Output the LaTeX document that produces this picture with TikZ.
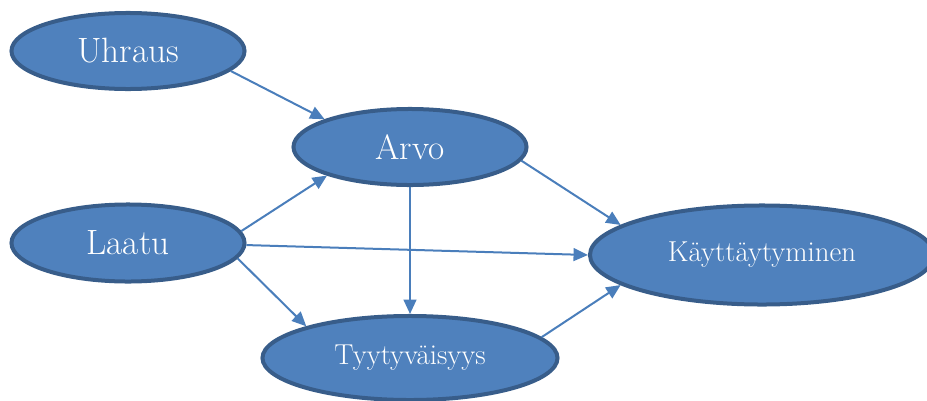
\documentclass[tikz,border=0pt]{standalone}
\usepackage{tikz}
\usetikzlibrary{shapes.geometric}
\usetikzlibrary{arrows.meta}
\definecolor{factorfill}{HTML}{4F81BD}
\definecolor{factorline}{HTML}{385D8A}
\definecolor{linkblue}{HTML}{4A7EBB}
\tikzset{
	factor/.style={ellipse, draw=factorline, fill=factorfill, line width=0.1cm, inner sep=0pt, text=white},
	bigfactor/.style={factor, font=\fontsize{25}{29}\selectfont},
	smallfactor/.style={factor, font=\fontsize{20.5}{24}\selectfont},
	link/.style={-{Triangle[length=3.6mm,width=3.2mm]}, line width=0.05cm, linkblue},
}

\begin{document}
\begin{tikzpicture}[x=0.025cm, y=-0.025cm]
		\useasboundingbox (0,0) rectangle (927,401);
		\clip (0,0) rectangle (927,401);

		% factors
		\node[bigfactor, minimum width=5.825cm, minimum height=1.9cm] (uhraus) at (128,51) {Uhraus};
		\node[bigfactor, minimum width=5.825cm, minimum height=1.9cm] (arvo) at (410,147) {Arvo};
		\node[bigfactor, minimum width=5.825cm, minimum height=1.925cm] (laatu) at (128,243) {Laatu};
		\node[smallfactor, minimum width=8.6cm, minimum height=2.475cm] (kaytt) at (762,255) {Käyttäytyminen};
		\node[smallfactor, minimum width=7.375cm, minimum height=2.1cm] (tyyty) at (410,358) {Tyytyväisyys};

		% links
		\draw[link] (uhraus.-11) -- (arvo.162);
		\draw[link] (laatu.6) -- (arvo.-161);
		\draw[link] (arvo.south) -- (tyyty.north);
		\draw[link] (arvo.-7) -- (kaytt.168);
		\draw[link] (laatu.-1) -- (kaytt.180);
		\draw[link] (laatu.-8) -- (tyyty.163);
		\draw[link] (tyyty.9) -- (kaytt.-168);

\end{tikzpicture}
\end{document}
